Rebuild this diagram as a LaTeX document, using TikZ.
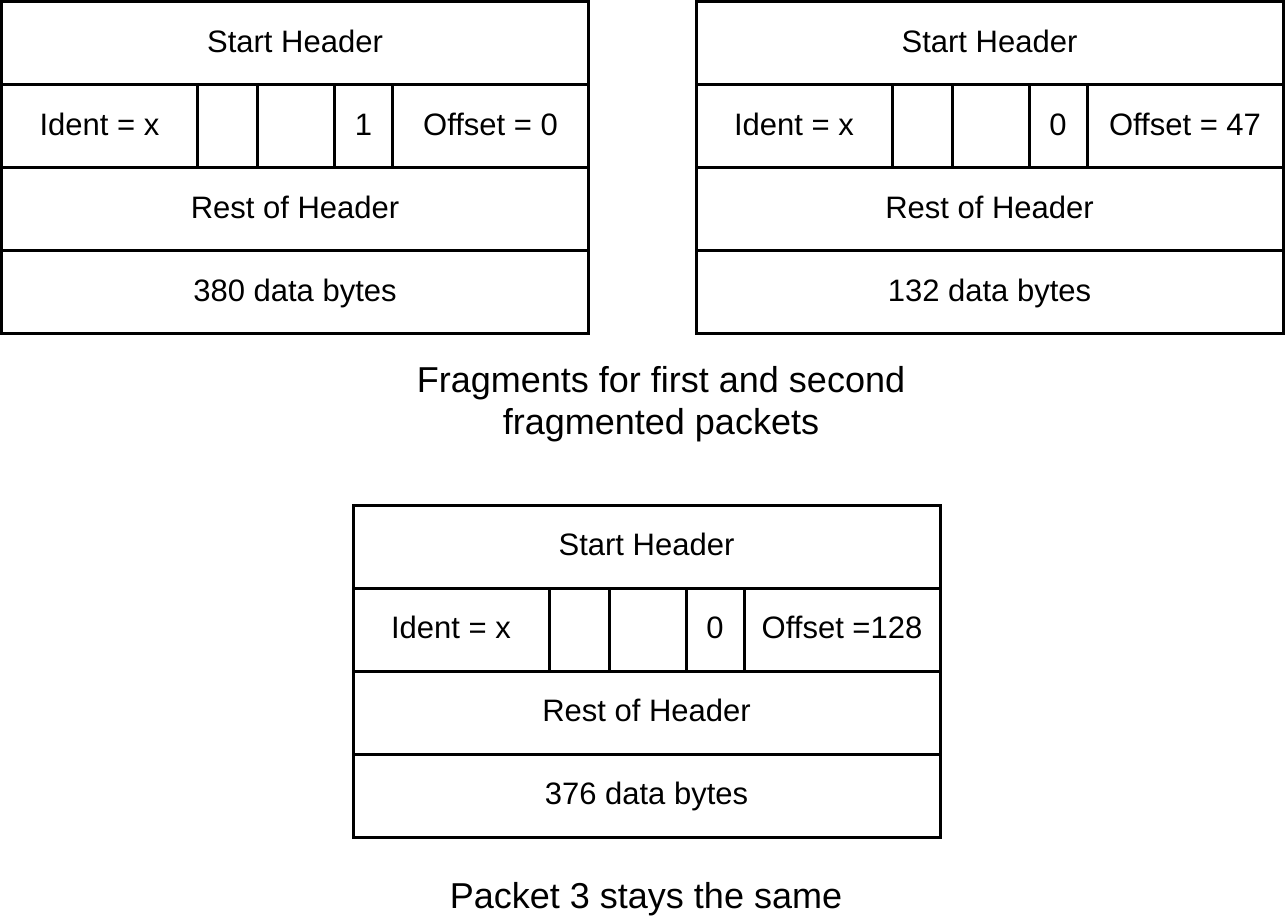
\documentclass[tikz,border=0pt]{standalone}
\usepackage{fontspec}
\setmainfont{Liberation Sans}
\begin{document}
\begin{tikzpicture}[x=0.5pt, y=-0.5pt, line width=1.5pt,
		cell/.style={draw, rectangle, inner sep=0pt, outer sep=0pt, anchor=north west, minimum height=41.5pt, text height=11pt, text depth=2pt, font=\fontsize{15.5}{18}\selectfont},
		caption/.style={align=center, font=\fontsize{18}{21}\selectfont}]
	\useasboundingbox (0,0) rectangle (1286,922);
	% the three packets
	\foreach \p/\x/\y/\flag/\off/\bytes in {one/1.5/1.5/1/{Offset = 0}/380, two/696/1.5/0/{Offset = 47}/132, three/353/505/0/{Offset =128}/376}{
		\node[cell, minimum width=293.5pt] (\p-start) at (\x,\y) {Start Header};
		\node[cell, minimum width=98pt] (\p-ident) at (\x,\y+83) {Ident = x};
		\node[cell, minimum width=30pt] (\p-gap1) at (\x+196,\y+83) {};
		\node[cell, minimum width=38.5pt] (\p-gap2) at (\x+256,\y+83) {};
		\node[cell, minimum width=29pt] (\p-flag) at (\x+333,\y+83) {\flag};
		\node[cell, minimum width=98pt] (\p-offset) at (\x+391,\y+83) {\off};
		\node[cell, minimum width=293.5pt] (\p-rest) at (\x,\y+166) {Rest of Header};
		\node[cell, minimum width=293.5pt] (\p-data) at (\x,\y+249) {\bytes\ data bytes};
	}
	% captions
	\node[caption] (fragcap) at (661,404) {Fragments for first and second\\fragmented packets};
	\node[caption] (samecap) at (646,899) {Packet 3 stays the same};
\end{tikzpicture}
\end{document}
